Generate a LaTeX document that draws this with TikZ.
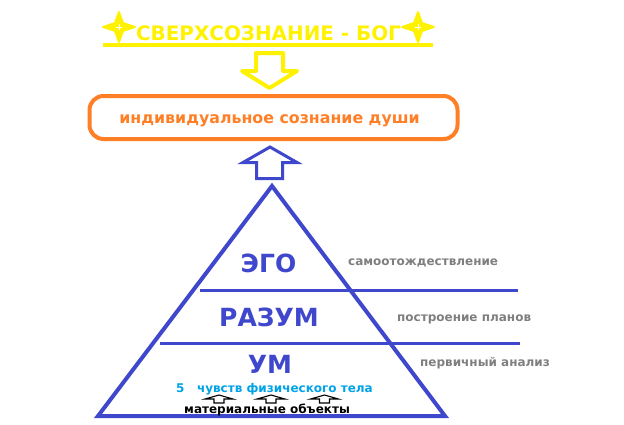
\documentclass[tikz,border=0pt]{standalone}
\usepackage{fontspec}
\setmainfont{DejaVu Sans}
\definecolor{godyellow}{RGB}{255,242,0}
\definecolor{soulorange}{RGB}{255,127,39}
\definecolor{pyrblue}{RGB}{63,72,204}
\definecolor{sensecyan}{RGB}{0,162,232}
\definecolor{notegray}{RGB}{127,127,127}
\tikzset{
  level/.style={anchor=base,inner sep=0,text=pyrblue,font=\bfseries\fontsize{25}{28}\selectfont},
  note/.style={anchor=base west,inner sep=0,text=notegray,font=\bfseries\fontsize{12}{14}\selectfont},
  small/.style={anchor=base west,inner sep=0,font=\bfseries\fontsize{12}{14}\selectfont}
}
\begin{document}
\begin{tikzpicture}[x=1pt,y=-1pt]
\useasboundingbox (0,0) rectangle (624,424);
% superconsciousness
\foreach \sx in {119,418}{
  \filldraw[godyellow,line width=2pt,line join=round] (\sx,12) -- (\sx+4,23) -- (\sx+16,27) -- (\sx+4,31)
    -- (\sx,42) -- (\sx-4,31) -- (\sx-16,27) -- (\sx-4,23) -- cycle;
  \draw[white,line width=1pt] (\sx-3,27) -- (\sx+3,27) (\sx,24) -- (\sx,30);
}
\path (268.5,40) node[anchor=base,inner sep=0,text=godyellow,font=\bfseries\fontsize{19.9}{24}\selectfont] (god) {СВЕРХСОЗНАНИЕ - БОГ};
\draw[godyellow,line width=4pt] (103,45) -- (433,45);
\draw[godyellow,line width=4pt,line join=round] (256,53) -- (283,53) -- (283,71) -- (297,71) -- (269.5,88)
  -- (242,71) -- (256,71) -- cycle;

% soul
\draw[soulorange,line width=4pt,rounded corners=14pt] (89.5,96) rectangle (457.5,139);
\path (269.5,123) node[anchor=base,inner sep=0,text=soulorange,font=\bfseries\fontsize{15.8}{19}\selectfont] (soul) {индивидуальное сознание души};
\draw[pyrblue,line width=3pt] (270,147) -- (297,162.5) -- (282.5,162.5) -- (282.5,178.5) -- (256.5,178.5)
  -- (256.5,162.5) -- (243,162.5) -- cycle;

% pyramid
\coordinate (top) at (272,186);
\coordinate (bl) at (98,416);
\coordinate (br) at (445,416);
\draw[pyrblue,line width=4pt] (top) -- (br) -- (bl) -- cycle;
\coordinate (l1a) at (200,290);
\coordinate (l1b) at (518,290);
\coordinate (l2a) at (160,343.3);
\coordinate (l2b) at (520,343.3);
\draw[pyrblue,line width=3pt] (l1a) -- (l1b);
\draw[pyrblue,line width=3pt] (l2a) -- (l2b);

\path (268.5,272) node[level] (ego) {ЭГО};
\path (269,326) node[level] (mind) {РАЗУМ};
\path (270,373) node[level] (um) {УМ};
\path (348,265) node[note] (egonote) {самоотождествление};
\path (397,321) node[note] (mindnote) {построение планов};
\path (420,366) node[note] (umnote) {первичный анализ};

% senses
\path (176,392) node[small,text=sensecyan] (senses) {5\ \ \ чувств физического тела};
\foreach \ax in {219,271,324.5}{
  \draw[black,line width=1.1pt] (\ax-14,399) -- (\ax,395) -- (\ax+14,399) -- (\ax+5,399) -- (\ax+5,403)
    -- (\ax-5,403) -- (\ax-5,399) -- cycle;
}
\path (184,413) node[small,text=black] (objects) {материальные объекты};
\end{tikzpicture}
\end{document}
